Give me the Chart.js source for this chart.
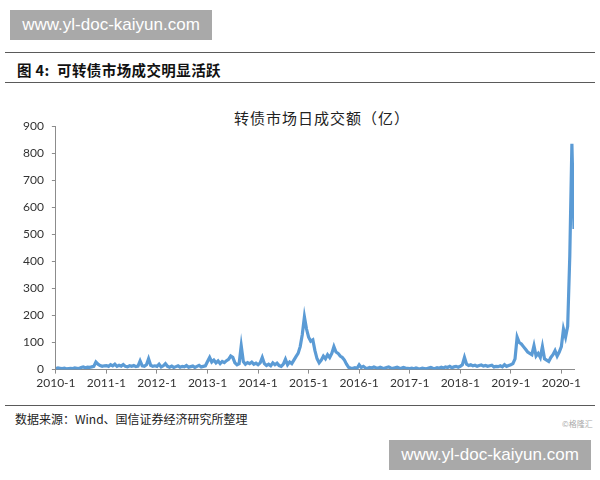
<!DOCTYPE html>
<html>
<head>
<meta charset="utf-8">
<script src="https://cdn.jsdelivr.net/npm/chart.js@4.4.0/dist/chart.umd.min.js"></script>
<style>
  body { margin: 0; background: #fff; }
  #page { position: relative; width: 600px; height: 480px; overflow: hidden; font-family: "Noto Sans CJK SC", sans-serif; }
  .wm { position: absolute; background: #a9a9a9; color: #fff; font: 17px "Liberation Sans", Arial, sans-serif; text-align: center; line-height: 30px; height: 30px; width: 202px; }
  .rule { position: absolute; left: 5px; width: 590px; height: 0; border-top: 1.5px solid #5a5a5a; }
  #head { position: absolute; left: 17px; top: 59px; font-size: 14.5px; font-weight: bold; color: #111; letter-spacing: 0.4px; }
  #ctitle { position: absolute; left: 212px; width: 220px; top: 107px; text-align: center; font-size: 15px; color: #222; letter-spacing: 1px; }
  #src { position: absolute; left: 15px; top: 410px; font-size: 12px; color: #222; }
  #copy { position: absolute; left: 562px; top: 418px; font-size: 8px; color: #aaa; }
  #box { position: absolute; left: 0; top: 111px; width: 600px; height: 281px; }
</style>
</head>
<body>
<div id="page">
  <div class="wm" style="left:10px;top:10px;">www.yl-doc-kaiyun.com</div>
  <div class="rule" style="top:52px;"></div>
  <div id="head">图 4:&nbsp; 可转债市场成交明显活跃</div>
  <div class="rule" style="top:82px;"></div>
  <div id="ctitle">转债市场日成交额（亿）</div>
  <div id="box"><canvas id="chart"></canvas></div>
  <div class="rule" style="top:405px;"></div>
  <div id="src">数据来源：Wind、国信证券经济研究所整理</div>
  <div id="copy">©格隆汇</div>
  <div class="wm" style="left:389px;top:440px;">www.yl-doc-kaiyun.com</div>
</div>
<script>
// 转债市场日成交额（亿）, two points per month
const v2010 = [4,6,5,4,5,3,4,5,4,6,5,4,8,10,7,9,8,10,12,28,20,15,12,14]
const v2011 = [15,12,18,14,20,12,16,13,19,12,10,14,12,15,11,13,32,14,12,18,40,16,12,14]
const v2012 = [12,20,10,14,22,12,9,13,8,11,14,9,12,10,15,9,11,13,8,12,16,10,12,14]
const v2013 = [30,45,28,35,25,32,22,30,26,33,38,50,45,25,18,22,88,30,20,26,22,28,20,24]
const v2014 = [18,25,45,22,15,20,14,25,18,24,15,12,20,38,18,28,22,35,48,60,85,130,195,150]
const v2015 = [120,105,110,70,40,25,35,50,40,55,45,60,85,65,60,50,45,35,20,8,6,5,7,5]
const v2016 = [18,8,12,6,5,8,6,10,7,5,9,6,5,8,10,6,5,7,9,6,5,8,6,5]
const v2017 = [4,5,3,6,4,3,5,4,3,6,8,5,4,7,5,9,6,10,8,12,7,10,12,9]
const v2018 = [12,18,45,20,15,18,14,16,12,15,17,13,15,12,14,16,10,12,11,14,10,18,12,15]
const v2019 = [18,22,40,120,100,95,85,75,65,60,55,88,50,60,45,85,40,35,30,45,55,70,50,65]
const v2020 = [85,150,120,160,420,835,520]

const years = [2010,2011,2012,2013,2014,2015,2016,2017,2018,2019,2020]
const yearValues = [v2010,v2011,v2012,v2013,v2014,v2015,v2016,v2017,v2018,v2019,v2020]
const yTicks = [0,100,200,300,400,500,600,700,800,900]

const points = []
yearValues.forEach((vals, k) => {
    vals.forEach((v, i) => points.push({ x: years[k] + i / 24, y: v }))
})

const axisGrey = '#8c8c8c'
const tickFont = { family: 'Lato, "Liberation Sans", sans-serif', size: 12 }

new Chart(document.getElementById('chart'), {
    type: 'line',
    data: {
        datasets: [{
            data: points,
            borderColor: '#5b9bd5',
            borderWidth: 3.2,
            pointRadius: 0,
            tension: 0,
        }]
    },
    options: {
        responsive: true,
        maintainAspectRatio: false,
        animation: false,
        layout: { padding: { left: 15, right: 26, top: 14, bottom: 0 } },
        plugins: { legend: { display: false }, tooltip: { enabled: false } },
        scales: {
            x: {
                type: 'linear',
                min: 2010,
                max: 2020.25,
                afterBuildTicks: s => { s.ticks = years.map(y => ({ value: y })) },
                ticks: { callback: v => v + '-1', font: tickFont, color: '#333', maxRotation: 0, autoSkip: false, padding: 2 },
                grid: { drawOnChartArea: false, drawTicks: true, tickLength: 4, color: axisGrey },
                border: { color: axisGrey, width: 1 },
            },
            y: {
                min: 0,
                max: 900,
                afterBuildTicks: s => { s.ticks = yTicks.map(v => ({ value: v })) },
                ticks: { font: tickFont, color: '#333', padding: 8 },
                grid: { drawOnChartArea: false, drawTicks: true, tickLength: 4, color: axisGrey },
                border: { color: axisGrey, width: 1 },
            }
        }
    }
})
</script>
</body>
</html>
